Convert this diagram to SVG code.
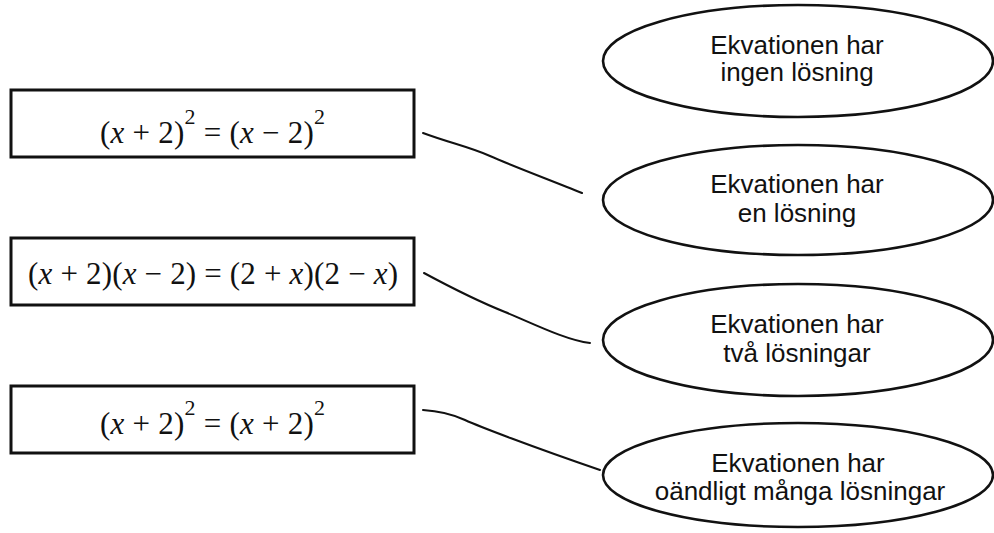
<svg xmlns="http://www.w3.org/2000/svg" width="994" height="533" viewBox="0 0 994 533">
<style>
.box{fill:#fff;stroke:#111;stroke-width:3}
.ell{fill:#fff;stroke:#111;stroke-width:2.6}
.math{font-family:"Liberation Serif","Times New Roman",serif;font-size:31px;fill:#111}
.math .v{font-style:italic}
.math .s{font-size:22px}
.lbl{font-family:"Liberation Sans",Arial,sans-serif;font-size:26px;fill:#111;text-anchor:middle}
.con{fill:none;stroke:#111;stroke-width:2;stroke-linecap:round}
</style>
<rect width="994" height="533" fill="#fff"/>
<g id="eq1">
<rect class="box" x="11" y="90" width="403" height="67"/>
<text class="math" x="100" y="143" textLength="225" lengthAdjust="spacing">(<tspan class="v">x</tspan> + 2)<tspan class="s" dy="-19">2</tspan><tspan dy="19"> = (</tspan><tspan class="v">x</tspan> − 2)<tspan class="s" dy="-19">2</tspan></text>
</g>
<g id="eq2">
<rect class="box" x="11" y="238" width="403" height="67"/>
<text class="math" x="28" y="284" textLength="370" lengthAdjust="spacing">(<tspan class="v">x</tspan> + 2)(<tspan class="v">x</tspan> − 2) = (2 + <tspan class="v">x</tspan>)(2 − <tspan class="v">x</tspan>)</text>
</g>
<g id="eq3">
<rect class="box" x="11" y="386" width="403" height="67"/>
<text class="math" x="100" y="434" textLength="225" lengthAdjust="spacing">(<tspan class="v">x</tspan> + 2)<tspan class="s" dy="-19">2</tspan><tspan dy="19"> = (</tspan><tspan class="v">x</tspan> + 2)<tspan class="s" dy="-19">2</tspan></text>
</g>
<g id="ans1">
<ellipse class="ell" cx="798" cy="61" rx="195" ry="56"/>
<text class="lbl" x="797" y="54">Ekvationen har</text>
<text class="lbl" x="797" y="81">ingen lösning</text>
</g>
<g id="ans2">
<ellipse class="ell" cx="798" cy="200" rx="195" ry="55"/>
<text class="lbl" x="797" y="193">Ekvationen har</text>
<text class="lbl" x="797" y="222">en lösning</text>
</g>
<g id="ans3">
<ellipse class="ell" cx="798" cy="340" rx="195" ry="56"/>
<text class="lbl" x="797" y="333">Ekvationen har</text>
<text class="lbl" x="797" y="362">två lösningar</text>
</g>
<g id="ans4">
<ellipse class="ell" cx="798" cy="475" rx="195" ry="52"/>
<text class="lbl" x="798" y="472">Ekvationen har</text>
<text class="lbl" x="800" y="500">oändligt många lösningar</text>
</g>
<g id="connectors">
<path class="con" d="M423,133 C450,143 470,147 490,156 S550,180 582,193"/>
<path class="con" d="M424,273 C450,287 480,302 505,312 S565,340 590,343"/>
<path class="con" d="M423,410 C440,411 452,414 465,420 S530,446 600,470"/>
</g>
</svg>
